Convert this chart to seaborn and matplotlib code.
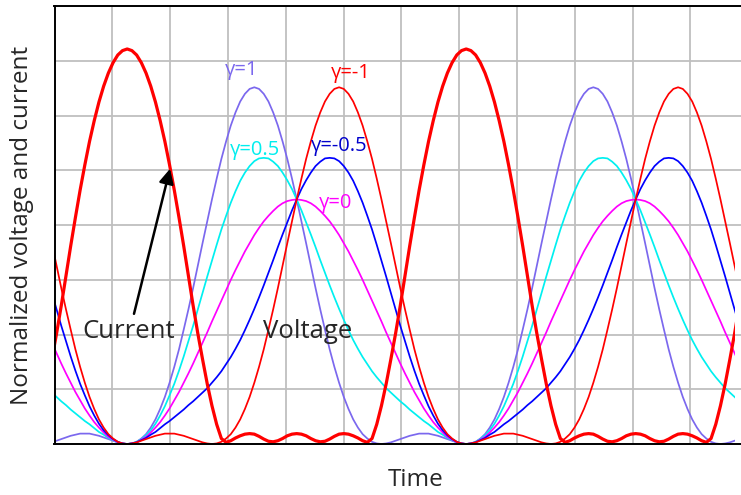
import numpy as np
import pandas as pd
import matplotlib
matplotlib.use("Agg")
import matplotlib.pyplot as plt
from matplotlib.patches import Rectangle
import seaborn as sns

# One RF cycle, phase in degrees (0 = current peak / voltage minimum), 5-degree steps
phase = np.arange(0, 360, 5)

# Normalized drain voltage for each gamma
v_gamma_p1 = [0, 0.01, 0.04, 0.10, 0.18, 0.30, 0.45, 0.64, 0.86, 1.12, 1.41, 1.73,
              2.09, 2.46, 2.85, 3.26, 3.67, 4.07, 4.47, 4.85, 5.21, 5.53, 5.82, 6.06,
              6.26, 6.40, 6.49, 6.52, 6.49, 6.40, 6.26, 6.06, 5.82, 5.53, 5.21, 4.85,
              4.47, 4.07, 3.67, 3.26, 2.85, 2.46, 2.09, 1.73, 1.41, 1.12, 0.86, 0.64,
              0.45, 0.30, 0.18, 0.10, 0.04, 0.01, 0, 0.01, 0.03, 0.06, 0.09, 0.12,
              0.15, 0.17, 0.19, 0.19, 0.19, 0.17, 0.15, 0.12, 0.09, 0.06, 0.03, 0.01]
v_gamma_p05 = [0, 0.01, 0.04, 0.09, 0.16, 0.25, 0.37, 0.52, 0.69, 0.89, 1.10, 1.34,
               1.60, 1.88, 2.16, 2.46, 2.76, 3.06, 3.35, 3.64, 3.92, 4.17, 4.41, 4.62,
               4.81, 4.96, 5.08, 5.17, 5.22, 5.23, 5.22, 5.16, 5.08, 4.96, 4.82, 4.66,
               4.47, 4.27, 4.05, 3.83, 3.60, 3.36, 3.13, 2.90, 2.68, 2.47, 2.27, 2.08,
               1.90, 1.74, 1.59, 1.46, 1.33, 1.22, 1.12, 1.02, 0.94, 0.86, 0.78, 0.71,
               0.63, 0.56, 0.49, 0.42, 0.36, 0.29, 0.22, 0.17, 0.11, 0.07, 0.03, 0.01]
v_gamma_0 = [0, 0.01, 0.03, 0.08, 0.13, 0.21, 0.30, 0.40, 0.52, 0.65, 0.80, 0.95,
             1.12, 1.29, 1.47, 1.66, 1.85, 2.04, 2.24, 2.43, 2.62, 2.81, 3.00, 3.18,
             3.35, 3.52, 3.67, 3.82, 3.95, 4.07, 4.17, 4.26, 4.34, 4.40, 4.44, 4.46,
             4.47, 4.46, 4.44, 4.40, 4.34, 4.26, 4.17, 4.07, 3.95, 3.82, 3.67, 3.52,
             3.35, 3.18, 3.00, 2.81, 2.62, 2.43, 2.24, 2.04, 1.85, 1.66, 1.47, 1.29,
             1.12, 0.95, 0.80, 0.65, 0.52, 0.40, 0.30, 0.21, 0.13, 0.08, 0.03, 0.01]
v_gamma_m05 = [0, 0.01, 0.03, 0.07, 0.11, 0.17, 0.22, 0.29, 0.36, 0.42, 0.49, 0.56,
               0.63, 0.71, 0.78, 0.86, 0.94, 1.02, 1.12, 1.22, 1.33, 1.46, 1.59, 1.74,
               1.90, 2.08, 2.27, 2.47, 2.68, 2.90, 3.13, 3.36, 3.60, 3.83, 4.05, 4.27,
               4.47, 4.66, 4.82, 4.96, 5.08, 5.16, 5.22, 5.23, 5.22, 5.17, 5.08, 4.96,
               4.81, 4.62, 4.41, 4.17, 3.92, 3.64, 3.35, 3.06, 2.76, 2.46, 2.16, 1.88,
               1.60, 1.34, 1.10, 0.89, 0.69, 0.52, 0.37, 0.25, 0.16, 0.09, 0.04, 0.01]
v_gamma_m1 = [0, 0.01, 0.03, 0.06, 0.09, 0.12, 0.15, 0.17, 0.19, 0.19, 0.19, 0.17,
              0.15, 0.12, 0.09, 0.06, 0.03, 0.01, 0, 0.01, 0.04, 0.10, 0.18, 0.30,
              0.45, 0.64, 0.86, 1.12, 1.41, 1.73, 2.09, 2.46, 2.85, 3.26, 3.67, 4.07,
              4.47, 4.85, 5.21, 5.53, 5.82, 6.06, 6.26, 6.40, 6.49, 6.52, 6.49, 6.40,
              6.26, 6.06, 5.82, 5.53, 5.21, 4.85, 4.47, 4.07, 3.67, 3.26, 2.85, 2.46,
              2.09, 1.73, 1.41, 1.12, 0.86, 0.64, 0.45, 0.30, 0.18, 0.10, 0.04, 0.01]

# Drain current
current = [7.22, 7.19, 7.11, 6.97, 6.78, 6.54, 6.25, 5.91, 5.53, 5.10, 4.64, 4.14,
           3.62, 3.08, 2.53, 2.02, 1.55, 1.10, 0.70, 0.36, 0.10, 0.03, 0.06, 0.11,
           0.15, 0.18, 0.19, 0.18, 0.14, 0.09, 0.05, 0.04, 0.06, 0.10, 0.15, 0.18,
           0.19, 0.18, 0.15, 0.10, 0.06, 0.04, 0.05, 0.09, 0.14, 0.18, 0.19, 0.18,
           0.15, 0.11, 0.06, 0.03, 0.10, 0.36, 0.70, 1.10, 1.55, 2.02, 2.53, 3.08,
           3.62, 4.14, 4.64, 5.10, 5.53, 5.91, 6.25, 6.54, 6.78, 6.97, 7.11, 7.19]

gamma_labels = ["\u03b3=1", "\u03b3=0.5", "\u03b3=0", "\u03b3=-0.5", "\u03b3=-1"]
gamma_colors = ["#7B68EE", "#00F0F0", "#FF00FF", "#0000FF", "#FF0000"]
gamma_text_colors = ["#7B68EE", "#00EEEE", "#FF00FF", "#0000CC", "#FF0000"]

cycles = [-1, 0, 1]
t_start, t_end, t_axis_end = -77.2, 645.5, 689.5


def periodic(values, name):
    """Repeat one cycle of samples over consecutive periods."""
    t = np.concatenate([phase + 360 * k for k in cycles])
    v = np.tile(values, len(cycles))
    return pd.DataFrame({"phase": t, "value": v, "series": name})


frames = [periodic(vals, lab) for vals, lab in
          zip([v_gamma_p1, v_gamma_p05, v_gamma_0, v_gamma_m05, v_gamma_m1], gamma_labels)]
frames.append(periodic(current, "Current"))
df = pd.concat(frames, ignore_index=True)

sns.set_style("white")
plt.rcParams["font.family"] = ["Open Sans", "DejaVu Sans"]

fig = plt.figure(figsize=(7.41, 4.95), dpi=100)
ax = fig.add_axes([54.5 / 741, 51 / 495, 722 / 741, 437.7 / 495])

clip = Rectangle((t_start, -1), t_end - t_start, 10, transform=ax.transData)

for lab, col in zip(gamma_labels, gamma_colors):
    sns.lineplot(data=df[df.series == lab], x="phase", y="value", color=col,
                 linewidth=1.25, estimator=None, sort=False, ax=ax, legend=False)
    ax.lines[-1].set_clip_path(clip)
sns.lineplot(data=df[df.series == "Current"], x="phase", y="value", color="#FF0000",
             linewidth=2.3, estimator=None, sort=False, ax=ax, legend=False)
ax.lines[-1].set_clip_path(clip)

ax.set_xlim(t_start, t_axis_end)
ax.set_ylim(0, 8)
ax.set_xticks(np.arange(t_start, t_axis_end, 61.38))
ax.set_yticks(np.arange(0, 9, 1))
ax.grid(True, color="#bfbfbf", linewidth=1.3)
ax.set_axisbelow(True)
ax.tick_params(length=0, labelbottom=False, labelleft=False)
for side in ["left", "top", "bottom"]:
    ax.spines[side].set_color("black")
    ax.spines[side].set_linewidth(1.4)
ax.spines["right"].set_visible(False)

ax.set_xlabel("Time", fontsize=17.5)
ax.xaxis.set_label_coords(0.5, -36 / 437.7)
ax.xaxis.label.set_va("center")
ax.set_ylabel("Normalized voltage and current", fontsize=17.5)
ax.yaxis.set_label_coords(-32.5 / 722, 0.5)
ax.yaxis.label.set_va("center")

# Curve labels
label_pos = {"\u03b3=1": (121.4, 6.84), "\u03b3=0.5": (135.2, 5.37), "\u03b3=0": (220.7, 4.40),
             "\u03b3=-0.5": (224.6, 5.44), "\u03b3=-1": (236.9, 6.79)}
for lab, col in zip(gamma_labels, gamma_text_colors):
    x, y = label_pos[lab]
    ax.text(x, y, lab, color=col, fontsize=14.5, ha="center", va="center")

ax.text(1.9, 2.05, "Current", fontsize=18.5, ha="center", va="center")
ax.text(191.5, 2.05, "Voltage", fontsize=18.5, ha="center", va="center")
ax.annotate("", xy=(46.2, 5.08), xytext=(6.5, 2.33),
            arrowprops=dict(arrowstyle="-|>", color="black", lw=1.8, mutation_scale=22))

fig.savefig("out.png", dpi=100)
